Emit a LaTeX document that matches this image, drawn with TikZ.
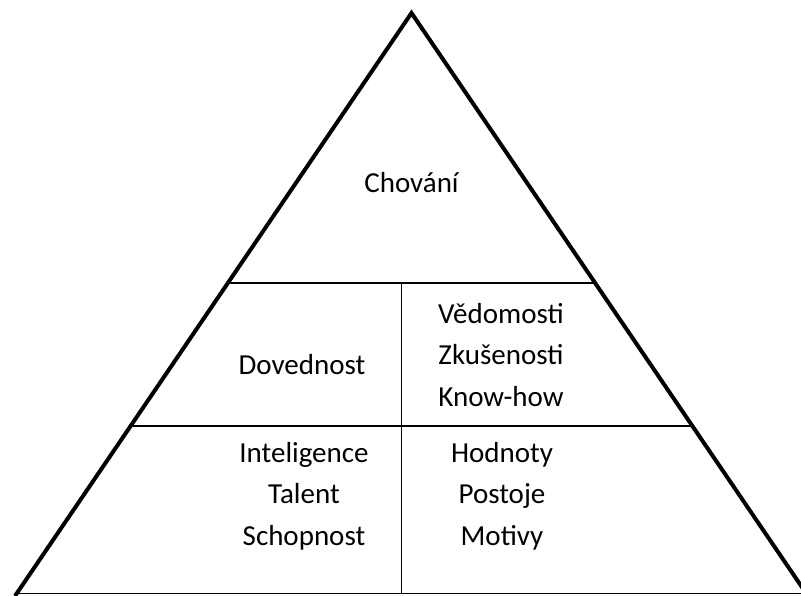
\documentclass[tikz,border=0pt]{standalone}
\usepackage{fontspec}
\setmainfont{Carlito}
\usetikzlibrary{calc}
\begin{document}
\begin{tikzpicture}[x=1pt,y=-1pt,
  outer/.style={line width=4pt,line join=miter},
  inner/.style={line width=1.6pt},
  base/.style={line width=1pt},
  lbl/.style={font=\fontsize{29}{41.5}\selectfont,align=center,inner sep=0pt}]
\useasboundingbox (0,0) rectangle (801,596);
\clip (0,0) rectangle (801,596);
\fill[white] (0,0) rectangle (801,596);
\coordinate (apex) at (411.5,13);
\coordinate (bl) at (15,596);
\coordinate (br) at (808,596);
\coordinate (l1) at ($(apex)!0.4631!(bl)$);
\coordinate (r1) at ($(apex)!0.4631!(br)$);
\coordinate (l2) at ($(apex)!0.7084!(bl)$);
\coordinate (r2) at ($(apex)!0.7084!(br)$);
\coordinate (vt) at (401.5,283);
\coordinate (vb) at (401.5,593);
\coordinate (bs) at (15,593);
\coordinate (be) at (801,593);
\draw[inner] (l1) -- (r1);
\draw[inner] (l2) -- (r2);
\draw[inner] (vt) -- (vb);
\draw[base] (bs) -- (be);
\draw[outer] (bl) -- (apex) -- (br);
\node[lbl] (chovani) at (411.5,183) {Chování};
\node[lbl] (dovednost) at (302,365) {Dovednost};
\node[lbl] (vedomosti) at (501,355) {Vědomosti\\Zkušenosti\\Know-how};
\node[lbl] (inteligence) at (304,496) {Inteligence\\Talent\\Schopnost};
\node[lbl] (hodnoty) at (502,496) {Hodnoty\\Postoje\\Motivy};
\end{tikzpicture}
\end{document}
